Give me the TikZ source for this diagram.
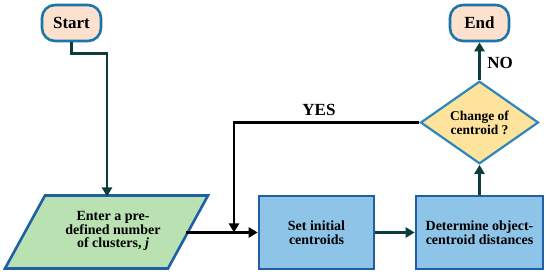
\documentclass[tikz,border=0pt]{standalone}
\usepackage{fontspec}
\setmainfont{Liberation Serif}
\usetikzlibrary{shapes.geometric,arrows.meta}
\definecolor{peach}{HTML}{FCE1CF}
\definecolor{termborder}{HTML}{1B75A8}
\definecolor{diafill}{HTML}{FDE39B}
\definecolor{diaborder}{HTML}{2E86BD}
\definecolor{boxfill}{HTML}{8EC4E8}
\definecolor{boxborder}{HTML}{1F5FA5}
\definecolor{greenfill}{HTML}{B9E1B2}
\definecolor{darkarrow}{HTML}{0E3C3C}
\tikzset{
  term/.style={draw=termborder, fill=peach, line width=2.6pt, rounded corners=13pt,
    minimum width=59pt, minimum height=36pt, inner sep=0pt, font=\fontsize{17}{17}\selectfont\bfseries},
  procbox/.style={draw=boxborder, fill=boxfill, line width=2.6pt, inner sep=0pt,
    minimum height=73pt, align=center, font=\fontsize{14}{14}\selectfont\bfseries},
  decision/.style={diamond, draw=diaborder, fill=diafill, line width=2.2pt,
    minimum width=118pt, minimum height=71pt, inner sep=0pt, align=center,
    font=\fontsize{13.5}{14}\selectfont\bfseries},
  txt/.style={align=center, inner sep=0pt, font=\fontsize{14}{13.5}\selectfont\bfseries},
  lbl/.style={font=\fontsize{17}{17}\selectfont\bfseries},
  darr/.style={draw=darkarrow, line width=2.6pt, -{Triangle[length=9pt,width=10pt]}},
  barr/.style={draw=black, line width=2.6pt, -{Triangle[length=9pt,width=10pt]}},
}
\begin{document}
\begin{tikzpicture}[x=1pt,y=-1pt]
\useasboundingbox (0,0) rectangle (550,275);
% nodes
\node[term] (start) at (71.5,23) {Start};
\node[term] (end) at (479.5,23) {End};
\node[decision] (dec) at (479.5,122.5) {Change of\\centroid ?};
\node[procbox, minimum width=115pt] (set) at (316.5,232.5) {Set initial\\centroids};
\node[procbox, minimum width=127pt] (det) at (479.5,232.5) {Determine object-\\centroid distances};
\draw[draw=boxborder, fill=greenfill, line width=2.6pt, line join=miter]
  (45,195.5) -- (208,195.5) -- (168,268.5) -- (5,268.5) -- cycle;
\node[txt] (in) at (113,231) {Enter a pre-\\defined number\\of clusters, \textit{j}};
\coordinate (inTop) at (107,195.5);
\coordinate (inRight) at (186,232.5);
\coordinate (yesTurn) at (234,122.5);
\coordinate (yesEnd) at (234,232.5);
% connectors
\draw[darr] (start.south) -- ++(0,11) -| ([yshift=-1pt]inTop);
\draw[barr] (inRight) -- (set.west);
\draw[darr] (set.east) -- (det.west);
\draw[darr] (det.north) -- (dec.south);
\draw[darr] (dec.north) -- (end.south);
\draw[barr] (dec.west) -- (yesTurn) -- (yesEnd);
% labels
\node[lbl] (yes) at (319,110) {YES};
\node[lbl] (no) at (500,63) {NO};
\end{tikzpicture}
\end{document}
